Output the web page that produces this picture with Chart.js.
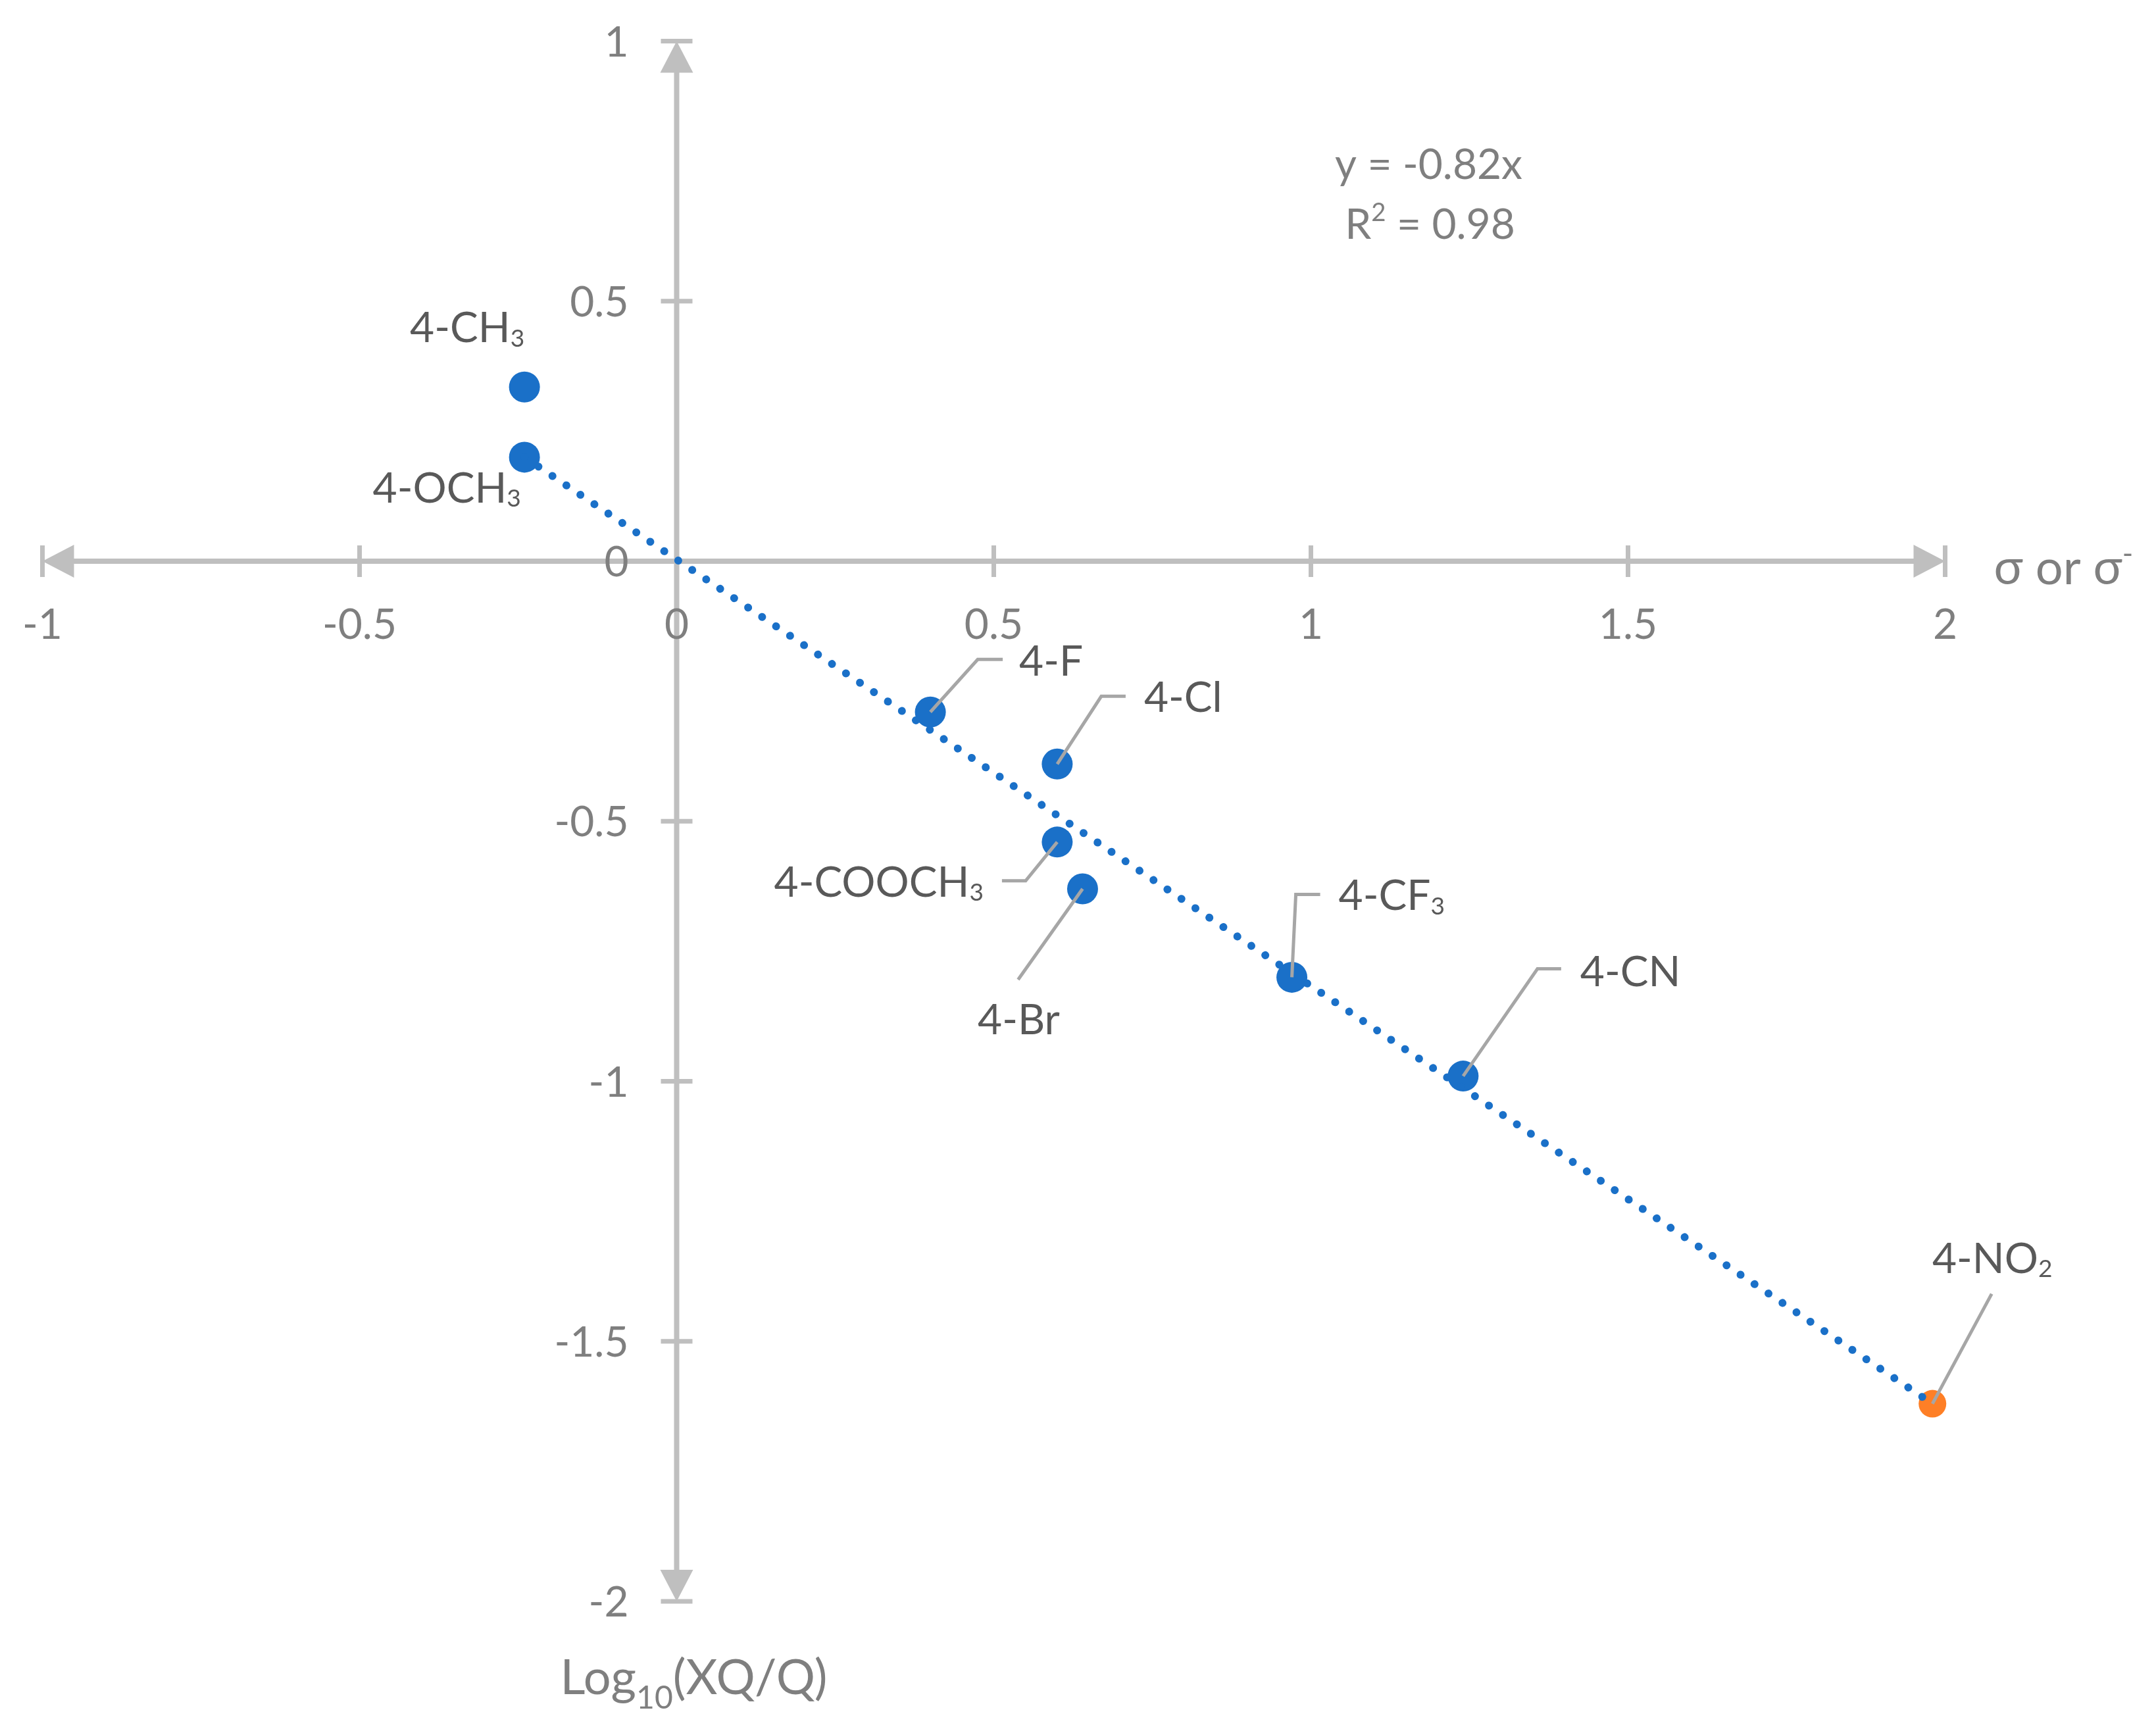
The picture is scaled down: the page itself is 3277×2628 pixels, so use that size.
<!DOCTYPE html>
<html>
<head>
<meta charset="utf-8">
<script src="https://cdn.jsdelivr.net/npm/chart.js@4.4.1/dist/chart.umd.min.js"></script>
<style>
  html, body { margin: 0; padding: 0; background: #ffffff; }
  canvas { display: block; }
</style>
</head>
<body>
<canvas id="myChart" width="3277" height="2628"></canvas>
<script>
// substituents measured on sigma (blue series)
const substituents = ['4-CH₃', '4-OCH₃', '4-F', '4-Cl', '4-COOCH₃', '4-Br', '4-CF₃', '4-CN'];
const sigmaValues = [-0.24, -0.24, 0.40, 0.60, 0.60, 0.64, 0.97, 1.24];
const logValues = [0.335, 0.20, -0.29, -0.39, -0.54, -0.63, -0.80, -0.99];

// sigma-minus point (orange)
const minusSubstituents = ['4-NO₂'];
const sigmaMinusValues = [1.98];
const minusLogValues = [-1.62];

// trendline y = -0.82x, drawn between the end points
const trendX = [-0.24, 1.98];
const trendY = [0.20, -1.62];

const xTicks = [-1, -0.5, 0, 0.5, 1, 1.5, 2];
const yTicks = [1, 0.5, 0, -0.5, -1, -1.5, -2];

const xTitle = 'σ or σ⁻';
const yTitle = 'Log₁₀(XQ/Q)';
const equationLines = ['y = -0.82x', 'R² = 0.98'];

const BLUE = '#1a70c8';
const ORANGE = '#fe7f26';
const AXIS_GREY = '#bfbfbf';
const LEADER_GREY = '#a6a6a6';
const TICK_TEXT = '#7f7f7f';
const LABEL_TEXT = '#595959';
const FONT_SIZE = 64;
const TITLE_SIZE = 74;

// label placement, pixel offsets from the marker centre
// leader: polyline points, tx/ty: text anchor (ty = middle of capitals)
const labelLayout = {
  '4-CH₃':    { leader: null, tx: -87, ty: -91, align: 'center' },
  '4-OCH₃':   { leader: null, tx: -118, ty: 46, align: 'center' },
  '4-F':      { leader: [[0, 0], [72, -80], [110, -80]], tx: 135, ty: -78, align: 'left' },
  '4-Cl':     { leader: [[0, 0], [67, -103], [104, -103]], tx: 132, ty: -102, align: 'left' },
  '4-COOCH₃': { leader: [[0, 0], [-48, 59], [-84, 59]], tx: -112, ty: 60, align: 'right' },
  '4-Br':     { leader: [[0, 0], [-98, 138]], tx: -97, ty: 198, align: 'center' },
  '4-CF₃':    { leader: [[0, 0], [6, -126], [43, -126]], tx: 71, ty: -125, align: 'left' },
  '4-CN':     { leader: [[0, 0], [113, -163], [149, -163]], tx: 178, ty: -160, align: 'left' },
  '4-NO₂':    { leader: [[0, 0], [90, -167]], tx: 91, ty: -222, align: 'center' },
};

const SUB = { '₀': '0', '₁': '1', '₂': '2', '₃': '3', '₄': '4', '₅': '5', '₆': '6', '₇': '7', '₈': '8', '₉': '9' };
const SUP = { '²': '2', '⁻': '-' };

function fontOf(size) {
  return size + 'px Lato, "Noto Sans", "DejaVu Sans", sans-serif';
}

// draws text with sub/superscript characters as smaller shifted runs
function drawRich(ctx, text, x, y, align, size, color, opts = {}) {
  const subScale = opts.subScale || 0.58;
  const subShift = opts.subShift || 0.1;
  const supScale = opts.supScale || 0.6;
  const supShift = opts.supShift || -0.42;
  const runs = [];
  for (const ch of text) {
    let kind = 'n';
    let c = ch;
    if (SUB[ch] != null) { kind = 'sub'; c = SUB[ch]; }
    else if (SUP[ch] != null) { kind = 'sup'; c = SUP[ch]; }
    const last = runs[runs.length - 1];
    if (last && last.kind === kind) last.text += c;
    else runs.push({ kind, text: c });
  }
  let total = 0;
  runs.forEach(r => {
    r.size = r.kind === 'sub' ? size * subScale : r.kind === 'sup' ? size * supScale : size;
    r.dy = r.kind === 'sub' ? size * subShift : r.kind === 'sup' ? size * supShift : 0;
    ctx.font = fontOf(r.size);
    r.w = ctx.measureText(r.text).width;
    total += r.w;
  });
  let cx = x;
  if (align === 'center') cx = x - total / 2;
  else if (align === 'right') cx = x - total;
  ctx.save();
  ctx.fillStyle = color;
  ctx.textAlign = 'left';
  ctx.textBaseline = 'alphabetic';
  runs.forEach(r => {
    ctx.font = fontOf(r.size);
    ctx.fillText(r.text, cx, y + r.dy);
    cx += r.w;
  });
  ctx.restore();
}

const CAP_HALF = FONT_SIZE * 0.36;

const axesPlugin = {
  id: 'crossAxes',
  beforeDatasetsDraw(chart) {
    const ctx = chart.ctx;
    const xs = chart.scales.x;
    const ys = chart.scales.y;
    const x0 = xs.getPixelForValue(0);
    const y0 = ys.getPixelForValue(0);
    const left = xs.getPixelForValue(xTicks[0]);
    const right = xs.getPixelForValue(xTicks[xTicks.length - 1]);
    const top = ys.getPixelForValue(yTicks[0]);
    const bottom = ys.getPixelForValue(yTicks[yTicks.length - 1]);
    const arrowLen = 48;
    const arrowHalf = 25;

    ctx.save();
    ctx.strokeStyle = AXIS_GREY;
    ctx.fillStyle = AXIS_GREY;
    ctx.lineWidth = 8;
    ctx.beginPath();
    ctx.moveTo(left + arrowLen - 2, y0);
    ctx.lineTo(right - arrowLen + 2, y0);
    ctx.moveTo(x0, top + arrowLen - 2);
    ctx.lineTo(x0, bottom - arrowLen + 2);
    ctx.stroke();

    // arrow heads
    ctx.beginPath();
    ctx.moveTo(left, y0); ctx.lineTo(left + arrowLen, y0 - arrowHalf); ctx.lineTo(left + arrowLen, y0 + arrowHalf); ctx.closePath();
    ctx.moveTo(right, y0); ctx.lineTo(right - arrowLen, y0 - arrowHalf); ctx.lineTo(right - arrowLen, y0 + arrowHalf); ctx.closePath();
    ctx.moveTo(x0, top); ctx.lineTo(x0 - arrowHalf, top + arrowLen); ctx.lineTo(x0 + arrowHalf, top + arrowLen); ctx.closePath();
    ctx.moveTo(x0, bottom); ctx.lineTo(x0 - arrowHalf, bottom - arrowLen); ctx.lineTo(x0 + arrowHalf, bottom - arrowLen); ctx.closePath();
    ctx.fill();

    // cross tick marks
    ctx.lineWidth = 7;
    ctx.beginPath();
    xTicks.forEach(v => {
      const px = xs.getPixelForValue(v);
      ctx.moveTo(px, y0 - 24);
      ctx.lineTo(px, y0 + 24);
    });
    yTicks.forEach(v => {
      const py = ys.getPixelForValue(v);
      ctx.moveTo(x0 - 24, py);
      ctx.lineTo(x0 + 24, py);
    });
    ctx.stroke();
    ctx.restore();

    // tick labels
    xTicks.forEach(v => {
      drawRich(ctx, String(v), xs.getPixelForValue(v), y0 + 95 + CAP_HALF, 'center', FONT_SIZE, TICK_TEXT);
    });
    yTicks.forEach(v => {
      drawRich(ctx, String(v), x0 - 73, ys.getPixelForValue(v) + CAP_HALF, 'right', FONT_SIZE, TICK_TEXT);
    });

    // axis titles
    drawRich(ctx, xTitle, right + 74, y0 + 35, 'left', TITLE_SIZE, TICK_TEXT);
    drawRich(ctx, yTitle, x0 - 177, bottom + 141, 'left', TITLE_SIZE, TICK_TEXT,
      { subScale: 0.65, subShift: 0.3 });

    // trendline equation
    const ex = xs.getPixelForValue(1.25);
    drawRich(ctx, equationLines[0], ex - 62, ys.getPixelForValue(0.735), 'center', FONT_SIZE, TICK_TEXT);
    drawRich(ctx, equationLines[1], ex - 60, ys.getPixelForValue(0.62), 'center', FONT_SIZE, TICK_TEXT);
  }
};

const labelPlugin = {
  id: 'pointLabels',
  afterDatasetsDraw(chart) {
    const ctx = chart.ctx;
    const groups = [
      { index: 1, names: substituents },
      { index: 2, names: minusSubstituents },
    ];
    groups.forEach(g => {
      const meta = chart.getDatasetMeta(g.index);
      meta.data.forEach((pt, i) => {
        const name = g.names[i];
        const lay = labelLayout[name];
        if (!lay) return;
        if (lay.leader) {
          ctx.save();
          ctx.strokeStyle = LEADER_GREY;
          ctx.lineWidth = 5;
          ctx.beginPath();
          lay.leader.forEach((p, k) => {
            if (k === 0) ctx.moveTo(pt.x + p[0], pt.y + p[1]);
            else ctx.lineTo(pt.x + p[0], pt.y + p[1]);
          });
          ctx.stroke();
          ctx.restore();
        }
        drawRich(ctx, name, pt.x + lay.tx, pt.y + lay.ty + CAP_HALF, lay.align, FONT_SIZE, LABEL_TEXT);
      });
    });
  }
};

function buildChart() {
  const ctx = document.getElementById('myChart');
  new Chart(ctx, {
    type: 'scatter',
    data: {
      datasets: [
        {
          label: 'Linear trend',
          type: 'line',
          data: trendX.map((x, i) => ({ x: x, y: trendY[i] })),
          borderColor: BLUE,
          borderWidth: 12,
          borderDash: [0.1, 25.5],
          borderCapStyle: 'round',
          pointRadius: 0,
          fill: false,
          clip: false,
          order: 0,
        },
        {
          label: 'σ',
          data: sigmaValues.map((x, i) => ({ x: x, y: logValues[i] })),
          backgroundColor: BLUE,
          borderWidth: 0,
          pointRadius: 23.5,
          pointHoverRadius: 23.5,
          clip: false,
          order: 1,
        },
        {
          label: 'σ⁻',
          data: sigmaMinusValues.map((x, i) => ({ x: x, y: minusLogValues[i] })),
          backgroundColor: ORANGE,
          borderWidth: 0,
          pointRadius: 21,
          pointHoverRadius: 21,
          clip: false,
          order: 2,
        },
      ]
    },
    options: {
      responsive: false,
      animation: false,
      devicePixelRatio: 1,
      events: [],
      layout: {
        padding: { left: 64.5, right: 320.5, top: 62.5, bottom: 194 }
      },
      scales: {
        x: { type: 'linear', min: -1, max: 2, display: false },
        y: { type: 'linear', min: -2, max: 1, display: false }
      },
      plugins: {
        legend: { display: false },
        tooltip: { enabled: false },
        title: { display: false }
      }
    },
    plugins: [axesPlugin, labelPlugin]
  });
}

document.fonts.load(fontOf(FONT_SIZE)).then(buildChart, buildChart);
</script>
</body>
</html>
